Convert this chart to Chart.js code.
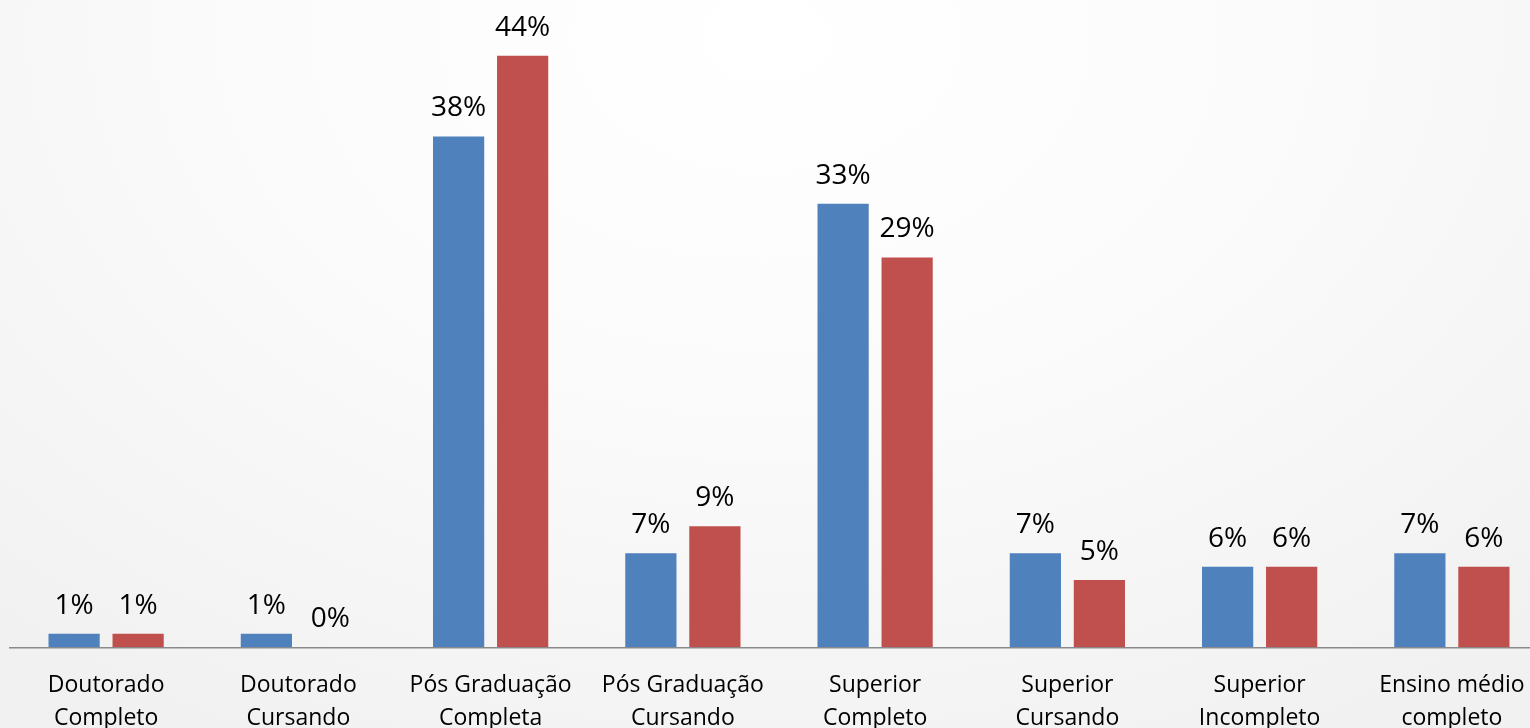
<!DOCTYPE html>
<html>
<head>
<meta charset="utf-8">
<script src="https://cdn.jsdelivr.net/npm/chart.js@4/dist/chart.umd.min.js"></script>
<style>
    html, body {
        margin: 0;
        padding: 0;
        width: 1530px;
        height: 728px;
        overflow: hidden;
        background: radial-gradient(ellipse 75% 110% at 50% 5%, #ffffff 0%, #fbfbfb 45%, #f1f1f1 100%);
    }
    #wrap {
        position: absolute;
        left: 0;
        top: 0;
        width: 1550px;
        height: 748px;
    }
</style>
</head>
<body>
<div id="wrap"><canvas id="escolaridade"></canvas></div>
<script>
// Escolaridade - two series, percentages
const categorias = [
    ['Doutorado', 'Completo'],
    ['Doutorado', 'Cursando'],
    ['Pós Graduação', 'Completa'],
    ['Pós Graduação', 'Cursando'],
    ['Superior', 'Completo'],
    ['Superior', 'Cursando'],
    ['Superior', 'Incompleto'],
    ['Ensino médio', 'completo']
];
const serieAzul = [1, 1, 38, 7, 33, 7, 6, 7];
const serieVermelha = [1, 0, 44, 9, 29, 5, 6, 6];

// Draw the % value above each bar
const valueLabels = {
    id: 'valueLabels',
    afterDatasetsDraw(chart) {
        const ctx = chart.ctx;
        ctx.save();
        ctx.font = "28px 'Open Sans', sans-serif";
        ctx.fillStyle = '#000';
        ctx.textAlign = 'center';
        ctx.textBaseline = 'alphabetic';
        chart.data.datasets.forEach((ds, i) => {
            chart.getDatasetMeta(i).data.forEach((bar, j) => {
                ctx.fillText(ds.data[j] + '%', bar.x, bar.y - 20);
            });
        });
        ctx.restore();
    }
};

new Chart(document.getElementById('escolaridade'), {
    type: 'bar',
    data: {
        labels: categorias,
        datasets: [
            { data: serieAzul, backgroundColor: '#4f81bd' },
            { data: serieVermelha, backgroundColor: '#c0504d' }
        ]
    },
    options: {
        responsive: true,
        maintainAspectRatio: false,
        animation: false,
        categoryPercentage: 0.666,
        barPercentage: 0.8,
        layout: { padding: { left: 10, right: 2, top: 2, bottom: 0 } },
        plugins: {
            legend: { display: false },
            tooltip: { enabled: false }
        },
        scales: {
            y: {
                display: false,
                min: 0,
                max: 48
            },
            x: {
                grid: { display: false },
                border: { color: '#8a8a8a', width: 1.5 },
                ticks: {
                    color: '#000',
                    padding: 13,
                    maxRotation: 0,
                    autoSkip: false,
                    font: { size: 23, family: "'Open Sans', sans-serif", lineHeight: 1.45 }
                }
            }
        }
    },
    plugins: [valueLabels]
});
</script>
</body>
</html>
